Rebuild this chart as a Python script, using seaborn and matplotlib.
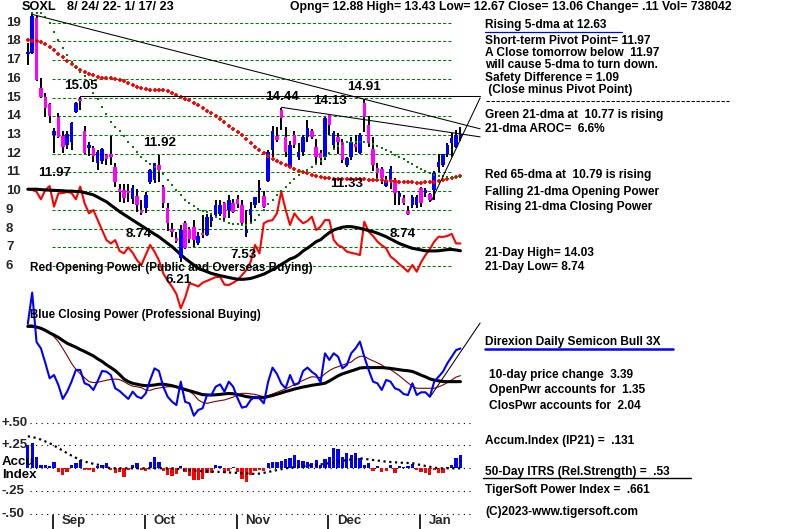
import numpy as np
import pandas as pd
import matplotlib
matplotlib.use("Agg")
import matplotlib.pyplot as plt
import seaborn as sns

sns.set_theme(style="white")
plt.rcParams['font.family'] = ['Liberation Sans', 'DejaVu Sans']

# ---------------- data ----------------
opens = [17.31, 17.40, 19.24, 15.53, 15.01, 14.66, 13.02, 13.94, 12.95, 12.47,
         12.64, 14.21, 14.91, 13.23, 12.32, 12.29, 11.48, 11.63, 11.93, 11.98,
         11.27, 10.10, 10.06, 10.02, 9.56, 9.74, 8.99, 9.08, 10.50, 10.60,
         11.40, 10.24, 9.08, 8.00, 7.50, 6.42, 8.28, 8.00, 8.10, 7.24,
         7.74, 7.65, 8.40, 8.72, 8.80, 9.35, 8.99, 9.35, 9.60, 9.26,
         7.78, 8.72, 9.26, 10.06, 9.76, 10.56, 12.20, 12.95, 14.34, 12.91,
         11.30, 13.00, 11.84, 12.10, 12.88, 13.20, 12.38, 12.05, 11.84, 14.07,
         12.47, 12.88, 12.60, 11.40, 11.84, 12.52, 12.02, 14.70, 13.53, 12.23,
         11.22, 11.16, 10.29, 10.60, 10.60, 9.70, 9.65, 8.95, 9.26, 9.26,
         10.15, 9.88, 9.85, 10.06, 11.30, 11.40, 12.00, 12.55, 12.34, 12.88]
highs = [17.90, 19.45, 19.35, 16.03, 15.26, 14.70, 13.36, 14.16, 13.23, 13.23,
         13.70, 14.75, 15.05, 13.48, 12.60, 12.40, 12.20, 12.30, 12.00, 12.95,
         11.48, 10.40, 10.40, 10.40, 10.30, 10.10, 9.50, 9.97, 11.20, 11.50,
         11.92, 10.30, 9.34, 8.28, 7.83, 8.20, 8.40, 8.10, 8.45, 7.80,
         8.70, 8.80, 8.80, 9.50, 9.50, 9.43, 9.79, 9.60, 9.80, 9.50,
         8.99, 9.43, 9.70, 10.60, 10.00, 12.20, 13.48, 13.45, 14.44, 13.45,
         12.70, 13.20, 12.55, 13.00, 13.80, 13.30, 12.80, 12.20, 13.98, 14.13,
         13.20, 13.10, 12.80, 11.80, 12.91, 13.00, 13.10, 14.91, 14.03, 12.90,
         11.49, 11.30, 10.80, 11.35, 10.70, 10.00, 9.80, 9.20, 9.80, 9.80,
         10.24, 10.15, 9.90, 11.10, 12.00, 12.00, 12.55, 13.09, 13.27, 13.43]
lows = [16.74, 17.35, 15.90, 14.98, 13.94, 13.66, 12.02, 12.85, 12.05, 12.24,
        12.20, 14.18, 14.34, 12.00, 11.90, 11.57, 11.13, 11.45, 11.40, 11.40,
        10.24, 9.43, 9.38, 9.43, 9.30, 8.90, 8.74, 8.81, 10.40, 10.45,
        10.50, 9.10, 7.85, 7.56, 7.20, 6.21, 6.90, 7.20, 7.00, 7.10,
        7.50, 7.60, 8.10, 8.63, 8.65, 8.45, 8.55, 8.85, 9.10, 8.20,
        7.53, 8.28, 9.10, 9.35, 9.10, 10.50, 11.84, 12.60, 13.27, 11.84,
        11.30, 12.30, 11.66, 11.90, 12.60, 12.80, 11.52, 11.40, 11.66, 13.00,
        12.20, 12.00, 11.50, 11.30, 11.66, 12.10, 12.00, 13.18, 12.38, 11.10,
        10.60, 10.40, 10.20, 10.10, 9.26, 9.26, 9.26, 8.74, 9.08, 9.08,
        9.17, 9.70, 9.44, 9.53, 11.00, 11.30, 11.84, 11.84, 12.30, 12.67]
closes = [17.46, 19.36, 15.94, 15.01, 14.43, 14.02, 13.23, 12.88, 12.38, 13.05,
          13.66, 14.69, 14.82, 12.06, 12.47, 11.90, 12.11, 12.23, 11.70, 11.80,
          10.50, 9.97, 9.61, 9.88, 10.18, 9.26, 8.81, 9.79, 11.13, 11.48,
          11.13, 9.38, 8.28, 7.83, 7.35, 7.92, 6.94, 7.42, 7.40, 7.60,
          7.65, 8.63, 8.60, 9.26, 9.26, 8.55, 9.52, 8.90, 9.30, 8.28,
          7.92, 9.03, 9.67, 10.15, 9.17, 12.10, 13.23, 12.73, 13.89, 12.11,
          12.47, 12.47, 12.10, 12.91, 13.36, 12.88, 11.84, 11.75, 13.89, 13.53,
          13.09, 12.60, 11.66, 11.75, 12.64, 12.34, 13.00, 13.98, 12.55, 11.40,
          10.96, 10.68, 10.60, 11.20, 9.88, 9.88, 9.35, 8.80, 9.70, 9.70,
          9.35, 10.06, 9.53, 10.95, 11.57, 11.98, 12.47, 12.82, 13.00, 13.06]

ma21_green = [np.nan, 19.5, 19.5, 19.5, 19.3, 19.0, 18.5, 18.1, 17.65, 17.3,
              16.9, 16.6, 16.35, 16.15, 15.7, 15.25, 14.93, 14.5, 14.1, 13.7,
              13.43, 13.2, 12.95, 12.65, 12.36, 12.1, 11.8, 11.6, 11.45, 11.3,
              11.1, 10.9, 10.6, 10.3, 10.06, 9.8, 9.55, 9.35, 9.2, 9.05,
              8.95, 8.88, 8.75, 8.6, 8.5, 8.4, 8.3, 8.25, 8.22, 8.2,
              8.2, 8.3, 8.45, 8.7, 9.0, 9.3, 9.55, 9.8, 10.0, 10.2,
              10.45, 10.65, 10.85, 11.0, 11.15, 11.3, 11.45, 11.6, 11.85, 12.05,
              12.25, 12.4, 12.5, 12.6, 12.62, 12.64, 12.64, 12.62, 12.57, 12.5,
              12.42, 12.32, 12.2, 12.1, 11.95, 11.84, 11.7, 11.58, 11.45, 11.3,
              11.16, 11.05, 10.95, 10.88, 10.83, 10.8, 10.78, 10.77, 10.77, 10.77]
ma65_red = [18.08, 18.05, 18.0, 17.95, 17.85, 17.7, 17.55, 17.35, 17.15, 16.95,
            16.8, 16.65, 16.5, 16.38, 16.28, 16.2, 16.12, 16.06, 16.04, 16.03,
            16.0, 15.95, 15.88, 15.78, 15.68, 15.58, 15.5, 15.45, 15.42, 15.4,
            15.4, 15.38, 15.33, 15.25, 15.15, 15.05, 14.95, 14.85, 14.72, 14.6,
            14.45, 14.3, 14.15, 14.0, 13.84, 13.68, 13.5, 13.33, 13.18, 12.98,
            12.8, 12.58, 12.38, 12.2, 12.05, 11.9, 11.72, 11.6, 11.5, 11.4,
            11.3, 11.2, 11.1, 11.03, 10.95, 10.88, 10.82, 10.76, 10.72, 10.69,
            10.67, 10.66, 10.65, 10.65, 10.64, 10.64, 10.63, 10.63, 10.62, 10.62,
            10.6, 10.58, 10.56, 10.54, 10.52, 10.5, 10.48, 10.47, 10.46, 10.45,
            10.45, 10.46, 10.48, 10.5, 10.55, 10.6, 10.66, 10.71, 10.75, 10.79]
open_power = [10.1, 10.06, 9.97, 9.56, 10.06, 10.27, 9.17, 9.88, 9.9, 9.95,
              9.9, 9.56, 10.24, 9.35, 8.81, 8.99, 8.45, 7.92, 7.38, 7.2,
              7.38, 6.8, 6.67, 6.99, 6.7, 6.3, 6.05, 6.6, 7.12, 6.76,
              6.3, 5.6, 5.2, 4.89, 4.5, 3.73, 4.3, 5.07, 5.0, 4.9,
              5.1, 5.2, 5.3, 5.4, 5.42, 5.0, 4.98, 5.1, 5.25, 5.5,
              5.78, 6.22, 7.12, 6.67, 8.28, 8.4, 8.45, 8.81, 9.97, 9.0,
              8.19, 8.81, 8.5, 8.28, 8.4, 8.63, 7.92, 8.1, 8.45, 8.45,
              7.39, 7.1, 7.0, 6.76, 6.7, 6.65, 6.58, 8.36, 7.83, 7.6,
              7.3, 7.1, 6.94, 6.5, 6.32, 6.1, 5.9, 5.69, 6.05, 5.69,
              6.2, 6.58, 6.9, 7.3, 7.56, 7.55, 7.6, 7.71, 7.2, 7.2]
open_power_ma = [10.1, 10.1, 10.1, 10.08, 10.06, 10.05, 10.04, 10.03, 10.02, 10.0,
                 10.0, 9.98, 9.97, 9.92, 9.86, 9.8, 9.68, 9.55, 9.43, 9.25,
                 9.08, 8.9, 8.75, 8.6, 8.45, 8.3, 8.15, 8.0, 7.85, 7.7,
                 7.56, 7.38, 7.2, 7.03, 6.82, 6.6, 6.4, 6.22, 6.05, 5.87,
                 5.78, 5.69, 5.6, 5.54, 5.48, 5.43, 5.38, 5.33, 5.29, 5.28,
                 5.3, 5.33, 5.4, 5.48, 5.56, 5.68, 5.8, 5.93, 6.08, 6.22,
                 6.37, 6.45, 6.6, 6.8, 6.95, 7.12, 7.3, 7.4, 7.6, 7.78,
                 7.92, 8.0, 8.07, 8.1, 8.1, 8.06, 8.01, 7.95, 7.89, 7.83,
                 7.75, 7.66, 7.56, 7.44, 7.32, 7.2, 7.11, 7.02, 6.94, 6.9,
                 6.85, 6.81, 6.8, 6.8, 6.81, 6.84, 6.87, 6.88, 6.85, 6.81]
close_power = [74, 98, 60, 55.1, 44, 32.1, 34.6, 26.9, 16.2, 21.8,
               29.5, 38.5, 38.5, 28.2, 26.9, 23.1, 30, 37.7, 37.2, 34.6,
               24.4, 22.3, 19.2, 16.2, 21.8, 18, 16.7, 20.5, 30.8, 39.7,
               37.7, 25.6, 17.9, 14.1, 11.5, 29.5, 14, 12.8, 3.3, 7.7,
               9.0, 19.2, 19.2, 25.6, 27.4, 21.8, 29.5, 25.6, 16.7, 9.5,
               10.3, 15.4, 17.9, 16.7, 12.8, 29.5, 40.3, 35.5, 28, 24.4,
               34.6, 26.9, 28.2, 37.7, 40.3, 37, 34.6, 29.0, 51.3, 46.2,
               51.3, 48.7, 39.7, 42.3, 51.3, 55.1, 60.3, 48.7, 38.5, 29.5,
               28.2, 23.1, 30.8, 29.5, 24.4, 23.1, 20, 19.2, 28.2, 19.2,
               21.3, 21.3, 17.9, 29.5, 33.3, 37.2, 43.6, 48.7, 53.8, 55]
close_power_ma21 = [72, 72, 71.5, 70.5, 69, 67, 65.4, 63.5, 61.2, 59,
                    57.5, 56, 54.2, 52.7, 51, 49.3, 47, 45, 42.5, 40.3,
                    38, 35, 31.5, 29.5, 28.2, 27.5, 26.8, 26.4, 26.6, 26.9,
                    27.5, 27.6, 27, 26.4, 25.5, 24.4, 23.4, 22.5, 21.5, 20.5,
                    19.5, 19.3, 19.2, 19.4, 19.7, 20.1, 20.4, 20.2, 19.6, 18.8,
                    18.0, 17.5, 17.2, 17.2, 17.2, 18, 18.8, 19.8, 20.8, 21.9,
                    22.8, 23.8, 24.6, 25.4, 26, 26.7, 27.2, 27.7, 28.3, 30,
                    32, 34, 35.5, 36.6, 37.7, 38.8, 40, 40.3, 40.3, 40.3,
                    40.3, 40.3, 40, 39.7, 39.2, 38.7, 38.2, 37.9, 37.3, 36,
                    34.5, 33.2, 31.6, 30.7, 30.1, 29.6, 29.5, 29.5, 29.5, 29.5]
close_power_ma10 = [73, 73.1, 72, 71, 69.5, 67.5, 64, 60.3, 55, 49.5,
                    43.6, 39, 35.5, 32.5, 29.5, 28.8, 29, 29.8, 30.6, 31.2,
                    31.5, 31, 29.5, 27.5, 26, 25.5, 24.9, 23, 22.8, 24,
                    24.6, 25.1, 25.6, 25.6, 25.6, 25, 24.2, 22, 19.5, 15.5,
                    13.5, 12.8, 13.6, 14.3, 14.9, 15.4, 16.5, 17.6, 19.3, 20.5,
                    20.5, 20.1, 19.7, 18.8, 17.9, 18.8, 20, 21.3, 22.6, 24,
                    25.5, 27.4, 28.9, 30.5, 32, 33.3, 33, 32.6, 35.5, 38,
                    39.8, 41, 42.2, 43.5, 44.6, 47.3, 49, 49, 47, 45.5,
                    44, 42.3, 40, 38.8, 36.5, 34, 31.3, 28.5, 26, 24.4,
                    24.4, 24.4, 24.4, 24.4, 25.5, 26.9, 28.8, 30.8, 33, 34.1]
accum_index = [0.25, 0.28, 0.12, 0.04, 0.04, 0.02, 0.07, -0.037, -0.073, -0.037,
               0.037, 0.055, 0.09, -0.018, -0.018, -0.037, 0.026, 0.037, 0.055, -0.018,
               -0.048, -0.037, -0.099, -0.018, 0.037, 0.055, -0.018, -0.026, 0.073, 0.12,
               0.073, -0.026, -0.073, -0.084, -0.062, 0.026, -0.037, -0.084, -0.128, -0.128,
               -0.12, -0.048, -0.048, 0.037, 0.026, -0.048, -0.026, 0.018, -0.037, -0.12,
               -0.146, -0.073, -0.026, -0.018, -0.026, 0.062, 0.073, 0.073, 0.084, 0.099,
               0.11, 0.146, 0.091, 0.084, 0.073, 0.062, 0.091, 0.037, 0.099, 0.12,
               0.219, 0.208, 0.12, 0.164, 0.146, 0.172, 0.11, 0.037, 0.055, -0.026,
               0.026, -0.037, -0.026, 0.037, -0.048, 0.026, 0.018, 0.026, 0.048, -0.018,
               -0.037, -0.048, -0.073, -0.018, -0.048, -0.048, 0.018, 0.037, 0.11, 0.146]
accum_ma = [0.35, 0.345, 0.33, 0.315, 0.295, 0.275, 0.25, 0.22, 0.195, 0.165,
            0.14, 0.115, 0.09, 0.075, 0.06, 0.05, 0.04, 0.025, 0.01, 0.0,
            0.0, 0.0, 0.0, 0.0, 0.0, 0.0, 0.0, 0.0, 0.0, 0.0,
            0.0, 0.0, 0.0, 0.0, -0.005, -0.012, -0.018, -0.02, -0.024, -0.028,
            -0.031, -0.034, -0.036, -0.037, -0.04, -0.043, -0.046, -0.048, -0.051, -0.054,
            -0.055, -0.058, -0.062, -0.058, -0.05, -0.04, -0.03, -0.02, -0.01, 0.0,
            0.006, 0.012, 0.018, 0.023, 0.028, 0.033, 0.037, 0.043, 0.05, 0.056,
            0.063, 0.072, 0.082, 0.091, 0.097, 0.104, 0.11, 0.104, 0.097, 0.091,
            0.085, 0.079, 0.073, 0.069, 0.066, 0.062, 0.06, 0.058, 0.055, 0.045,
            0.035, 0.026, 0.017, 0.008, 0.0, 0.0, 0.0, 0.0, 0.0, 0.0]

price_ticks = [19, 18, 17, 16, 15, 14, 13, 12, 11, 10, 9, 8, 7, 6]
accum_ticks = [0.5, 0.25, 0.0, -0.25, -0.5]
accum_tick_labels = ["+.50", "+.25", "", "-.25", "-.50"]
month_names = ["Sep", "Oct", "Nov", "Dec", "Jan"]
month_first_day = [6, 27, 48, 69, 90]

# trend lines (day index, price)
trend_down_x = [1, 103.5]; trend_down_y = [19.45, 13.33]
trend_flat_x = [12, 103.5]; trend_flat_y = [15.08, 15.08]
trend_mid_x = [58, 103.5]; trend_mid_y = [14.48, 12.9]
trend_up_x = [92.4, 103.5]; trend_up_y = [9.5, 14.98]
cp_trend_x = [92.1, 103.5]; cp_trend_y = [17.9, 74.6]

day = np.arange(len(closes))
df = pd.DataFrame({"day": day, "open": opens, "high": highs, "low": lows,
                   "close": closes, "ma21": ma21_green, "ma65": ma65_red,
                   "op": open_power, "op_ma": open_power_ma,
                   "cp": close_power, "cp_ma21": close_power_ma21,
                   "cp_ma10": close_power_ma10, "ai": accum_index, "ai_ma": accum_ma})

# ---------------- figure ----------------
W, H = 800, 529
fig = plt.figure(figsize=(W / 100, H / 100), dpi=100)
fig.patch.set_facecolor("white")

XLIM = (-6.362, 176.70)


def overlay(ylim):
    ax = fig.add_axes([0, 0, 1, 1])
    ax.set_xlim(*XLIM)
    ax.set_ylim(*ylim)
    ax.axis("off")
    ax.patch.set_alpha(0)
    return ax


ax_p = overlay((-8.069, 20.219))
ax_cp = overlay((-83.85, 323.08))
ax_ai = overlay((-0.6656, 5.135))
ax_t = fig.add_axes([0, 0, 1, 1])
ax_t.set_xlim(0, W)
ax_t.set_ylim(H, 0)
ax_t.axis("off")
ax_t.patch.set_alpha(0)

BLUE = "#0000ff"
MAG = "#ff00ff"
RED = "#ff0000"
GREEN = "#008000"
DRED = "#800000"

# price grid
ax_p.hlines(price_ticks, 5.5, 97.3, colors=GREEN, linewidth=0.75,
            linestyles=(0, (3, 2)), zorder=1)

# trend lines
for tx, ty in [(trend_down_x, trend_down_y), (trend_flat_x, trend_flat_y),
               (trend_mid_x, trend_mid_y), (trend_up_x, trend_up_y)]:
    ax_p.plot(tx, ty, color="black", linewidth=0.75, zorder=5)
ax_cp.plot(cp_trend_x, cp_trend_y, color="black", linewidth=0.75, zorder=5)

# opening power lines
sns.lineplot(data=df, x="day", y="op", ax=ax_p, color=RED, linewidth=1.5,
             zorder=2, legend=False)
sns.lineplot(data=df, x="day", y="op_ma", ax=ax_p, color="black", linewidth=2.2,
             zorder=2, legend=False)

# moving average dots
sns.scatterplot(data=df, x="day", y="ma65", ax=ax_p, marker="+", s=9,
                color=RED, linewidth=1.3, zorder=4, legend=False)
sns.scatterplot(data=df.dropna(subset=["ma21"]), x="day", y="ma21", ax=ax_p,
                marker="s", s=4.5, color=GREEN, linewidth=0, zorder=4, legend=False)

# candles
ax_p.vlines(df["day"], df["low"], df["high"], colors="black", linewidth=1.4, zorder=3)
up = df["close"] >= df["open"]
box_col = np.where(up, BLUE, MAG)
ax_p.bar(df["day"], df["close"] - df["open"], bottom=df["open"], width=0.8,
         color=box_col, linewidth=0, zorder=3.5)

# closing power
sns.lineplot(data=df, x="day", y="cp_ma10", ax=ax_cp, color=DRED, linewidth=0.8,
             zorder=2, legend=False)
sns.lineplot(data=df, x="day", y="cp_ma21", ax=ax_cp, color="black", linewidth=2.2,
             zorder=2, legend=False)
sns.lineplot(data=df, x="day", y="cp", ax=ax_cp, color=BLUE, linewidth=1.5,
             zorder=3, legend=False)

# accumulation index
ax_ai.hlines(accum_ticks, 0.5, 101.6, colors="black", linewidth=0.8,
             linestyles=(0, (1, 4)), zorder=1)
ai_col = np.where(df["ai"] >= 0, BLUE, RED)
ax_ai.bar(df["day"], df["ai"], width=0.75, color=ai_col, linewidth=0, zorder=2)
sns.lineplot(data=df, x="day", y="ai_ma", ax=ax_ai, color="black", linewidth=1.6,
             linestyle=(0, (1, 1.6)), zorder=3, legend=False)
for m in month_first_day:
    ax_ai.vlines(m - 0.2, -0.6656, -0.512, colors="black", linewidth=1.2)
for m, name in zip(month_first_day, month_names):
    ax_ai.text(m + 1.8, -0.575, name, fontsize=9.5, fontweight="bold",
               va="center", ha="left")

# axis labels
for v in price_ticks:
    ax_p.text(-5.0, v, str(v), fontsize=9.5, fontweight="bold", va="center", ha="left")
for v, lab in zip(accum_ticks, accum_tick_labels):
    if lab:
        ax_ai.text(-6.0, v, lab, fontsize=9.5, fontweight="bold", va="center", ha="left")

TXT = dict(fontweight="bold", va="center", ha="left", color="black")


def t(x, y, s, size=8.6, **kw):
    d = dict(TXT)
    d.update(kw)
    ax_t.text(x, y, s, fontsize=size, **d)


# header
t(22, 7, "SOXL", 9.2)
t(67, 7, "8/ 24/ 22- 1/ 17/ 23", 9.2)
t(290, 7, "Opng= 12.88 High= 13.43 Low= 12.67 Close= 13.06 Change= .11 Vol= 738042", 8.85)

# chart annotations
t(64, 86, "15.05", 9.6)
t(265, 97, "14.44", 9.6)
t(313, 101, "14.13", 9.6)
t(347, 87, "14.91", 9.6)
t(143, 143, "11.92", 9.6)
t(38, 173, "11.97", 9.6)
t(330, 184, "11.33", 9.6)
t(126, 234, "8.74", 9.6)
t(390, 234, "8.74", 9.6)
t(230, 255, "7.53", 9.6)
t(165, 280, "6.21", 9.6)
t(30, 268, "Red Opening Power (Public and Overseas Buying)", 8.5)
t(30, 315, "Blue Closing Power (Professional Buying)", 8.3)
t(2, 462, "Accu", 9.5)
t(2, 475, "Index", 9.5)

# right side text
t(485, 25, "Rising 5-dma at 12.63")
ax_t.plot([485, 622], [32, 32], color=BLUE, linewidth=0.9)
t(485, 41, "Short-term Pivot Point= 11.97")
t(485, 53, "A Close tomorrow below  11.97")
t(485, 65, "will cause 5-dma to turn down.")
t(485, 78, "Safety Difference = 1.09")
t(485, 90, " (Close minus Pivot Point)")
ax_t.plot([486, 729], [101, 101], color="black", linewidth=0.8, linestyle=(0, (3, 1.5)))
t(485, 115, "Green 21-dma at  10.77 is rising")
t(485, 129, "21-dma AROC=  6.6%")
t(485, 175, "Red 65-dma at  10.79 is rising")
t(485, 192, "Falling 21-dma Opening Power")
t(485, 207, "Rising 21-dma Closing Power")
t(485, 253, "21-Day High= 14.03")
t(485, 267, "21-Day Low= 8.74")
t(485, 342, "Direxion Daily Semicon Bull 3X")
ax_t.plot([485, 673], [349, 349], color=BLUE, linewidth=1.8)
t(489, 375, "10-day price change  3.39")
t(489, 390, "OpenPwr accounts for  1.35")
t(489, 406, "ClosPwr accounts for  2.04")
t(485, 441, "Accum.Index (IP21) =  .131")
t(485, 472, "50-Day ITRS (Rel.Strength) =  .53")
ax_t.plot([483, 691], [478, 478], color="black", linewidth=1.0)
t(485, 490, "TigerSoft Power Index =  .661")
t(485, 512, "(C)2023-www.tigersoft.com")

fig.savefig("out.png", dpi=100, facecolor="white")
